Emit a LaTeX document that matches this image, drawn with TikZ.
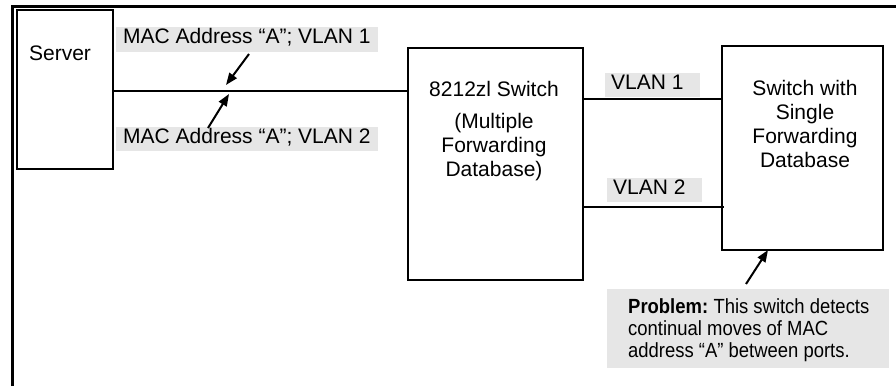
\documentclass[tikz,border=0pt]{standalone}
\usepackage{fontspec}
\setmainfont{Liberation Sans}
\newfontfamily\probfont[FakeStretch=0.9]{Liberation Sans}
\usetikzlibrary{arrows.meta}
\definecolor{labgrey}{HTML}{E6E6E6}
\tikzset{
  netbox/.style={draw, line width=2pt, inner sep=0pt},
  wire/.style={line width=2pt},
  pointer/.style={line width=2pt, -{Triangle[length=12pt,width=9pt]}},
  greylab/.style={fill=labgrey, anchor=north west, inner ysep=0pt, text height=16pt},
  boxtext/.style={inner sep=0pt, align=center}
}
\begin{document}
\begin{tikzpicture}[x=1pt,y=-1pt,font=\fontsize{21}{24}\selectfont]
\useasboundingbox (0,0) rectangle (896,386);
% outer frame
\draw[line width=3pt] (12,386) -- (12,6) -- (896,6);

% boxes
\node[netbox, minimum width=96pt, minimum height=159pt] (server) at (65,89.5) {};
\node[netbox, minimum width=175pt, minimum height=232pt] (mfd) at (495.5,164) {};
\node[netbox, minimum width=161pt, minimum height=204pt] (sfd) at (802.5,148) {};

% box texts
\node[boxtext, anchor=base] (servert) at (60,60) {Server};
\node[boxtext, anchor=north] (mfdt) at (494,80.7) {8212zl Switch\\[8pt](Multiple\\Forwarding\\Database)};
\node[boxtext, anchor=north] (sfdt) at (805,79.7) {Switch with\\Single\\Forwarding\\Database};

% connectors
\coordinate (l0) at (0,90.5);
\coordinate (l1) at (0,99);
\coordinate (l2) at (0,207);
\draw[wire] (server.east |- l0) -- (mfd.west |- l0);
\draw[wire] (mfd.east |- l1) -- (sfd.west |- l1);
\draw[wire] (mfd.east |- l2) -- ([xshift=3pt]sfd.west |- l2);

% grey labels
\node[greylab, inner xsep=7pt, text depth=9pt] (mac1) at (116,27) {\makebox[248pt][l]{MAC Address “A”; VLAN 1}};
\node[greylab, inner xsep=7pt, text depth=8pt] (mac2) at (116,127) {\makebox[248pt][l]{MAC Address “A”; VLAN 2}};
\node[greylab, inner xsep=6pt, text depth=8pt] (vlan1) at (605,73) {\makebox[83pt][l]{VLAN 1}};
\node[greylab, inner xsep=6pt, text depth=8pt] (vlan2) at (607,178) {\makebox[83pt][l]{VLAN 2}};

% problem box
\node[fill=labgrey, anchor=north west, minimum width=282pt, minimum height=79pt, inner sep=0pt] (prob) at (607,289) {};
\node[anchor=north west, inner sep=0pt, align=left, font=\probfont\fontsize{20.5}{22}\selectfont] (probtxt) at (628,298.5)
  {\textbf{Problem:}\hspace{-1.5pt} This switch detects\\continual moves of MAC\\address “A” between ports.};

% pointer arrows
\coordinate (a1t) at (249,54);
\coordinate (a1h) at (226,85);
\coordinate (a2t) at (208,128);
\coordinate (a2h) at (229,94);
\coordinate (a3t) at (746,284);
\coordinate (a3h) at (768,250);
\draw[pointer] (a1t) -- (a1h);
\draw[pointer] (a2t) -- (a2h);
\draw[pointer] (a3t) -- (a3h);
\end{tikzpicture}
\end{document}
